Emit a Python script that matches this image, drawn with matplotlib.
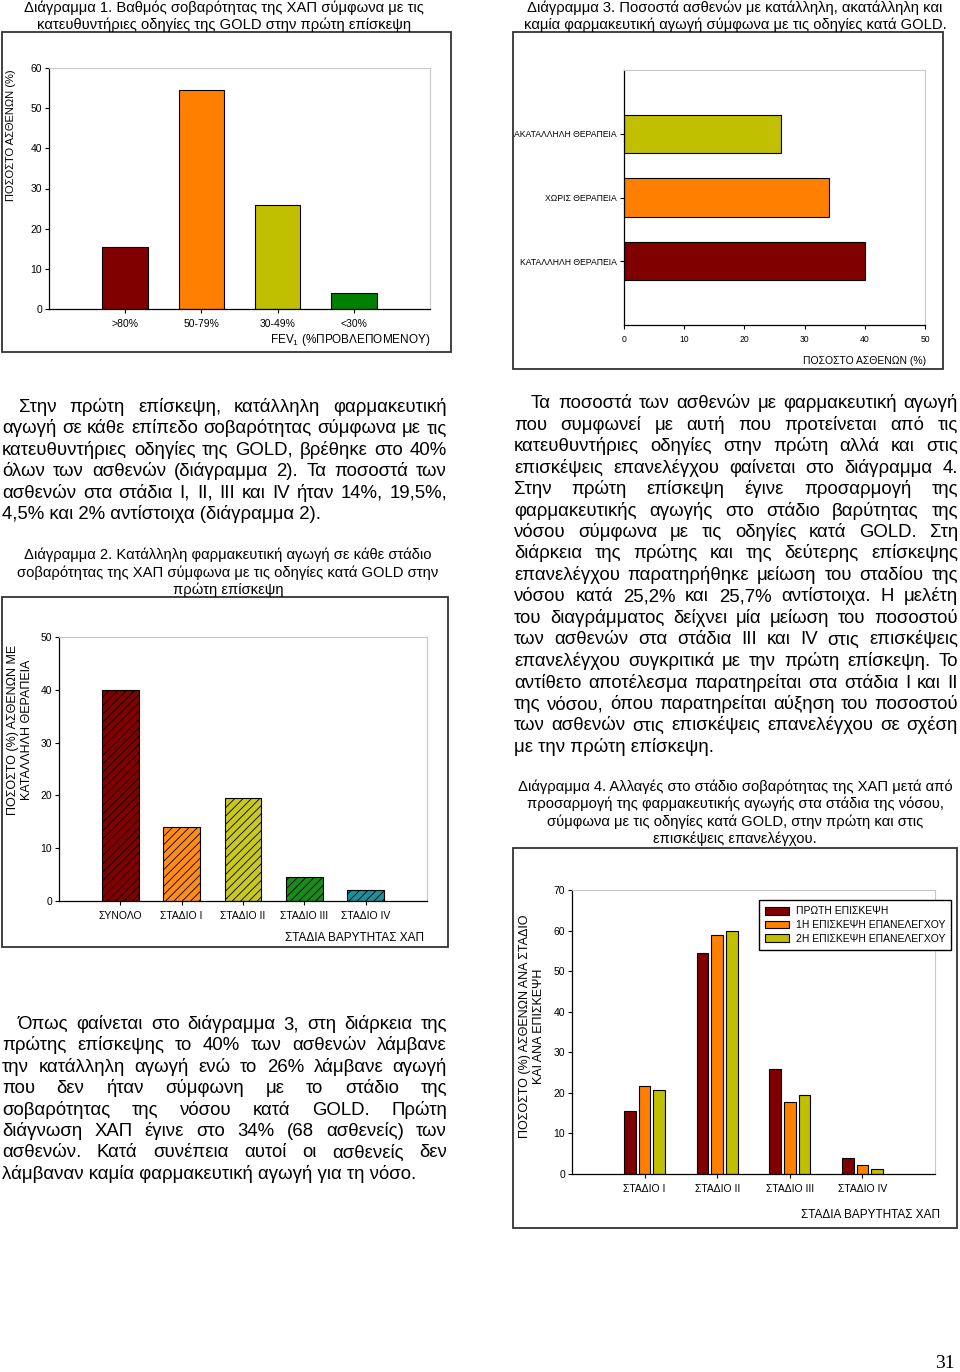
"""
plot.py
-------
Page with four GOLD / COPD charts and the text around them.
"""

import numpy as np
import matplotlib
matplotlib.use('Agg')
import matplotlib.pyplot as plt
from matplotlib.patches import Rectangle, Patch

plt.rcParams['font.family'] = ['Liberation Sans', 'DejaVu Sans']
plt.rcParams['mathtext.fontset'] = 'custom'
plt.rcParams['mathtext.rm'] = 'Liberation Sans'
plt.rcParams['hatch.linewidth'] = 0.6

W, H = 960, 1372

# ---- data -----------------------------------------------------------------
fev_cats = ['>80%', '50-79%', '30-49%', '<30%']
fev_vals = [15.5, 54.5, 26, 4]

treat_cats = ['ΚΑΤΑΛΛΗΛΗ ΘΕΡΑΠΕΙΑ', 'ΧΩΡΙΣ ΘΕΡΑΠΕΙΑ', 'ΑΚΑΤΑΛΛΗΛΗ ΘΕΡΑΠΕΙΑ']
treat_vals = [40, 34, 26]

stage_cats = ['ΣΥΝΟΛΟ', 'ΣΤΑΔΙΟ I', 'ΣΤΑΔΙΟ II', 'ΣΤΑΔΙΟ III', 'ΣΤΑΔΙΟ IV']
stage_vals = [40, 14, 19.5, 4.5, 2]

visit_cats = ['ΣΤΑΔΙΟ I', 'ΣΤΑΔΙΟ II', 'ΣΤΑΔΙΟ III', 'ΣΤΑΔΙΟ IV']
first_visit = [15.5, 54.5, 26, 4]
recheck_1 = [21.6, 58.8, 17.7, 2.2]
recheck_2 = [20.8, 59.8, 19.4, 1.3]
visit_names = ['ΠΡΩΤΗ ΕΠΙΣΚΕΨΗ', '1Η ΕΠΙΣΚΕΨΗ ΕΠΑΝΕΛΕΓΧΟΥ', '2Η ΕΠΙΣΚΕΨΗ ΕΠΑΝΕΛΕΓΧΟΥ']

par1 = [
    "Στην πρώτη επίσκεψη, κατάλληλη φαρμακευτική",
    "αγωγή σε κάθε επίπεδο σοβαρότητας σύμφωνα με τις",
    "κατευθυντήριες οδηγίες της GOLD, βρέθηκε στο 40%",
    "όλων των ασθενών (διάγραμμα 2). Τα ποσοστά των",
    "ασθενών στα στάδια Ι, ΙΙ, ΙΙΙ και ΙV ήταν 14%, 19,5%,",
    "4,5% και 2% αντίστοιχα (διάγραμμα 2).",
]
par2 = [
    "Τα ποσοστά των ασθενών με φαρμακευτική αγωγή",
    "που συμφωνεί με αυτή που προτείνεται από τις",
    "κατευθυντήριες οδηγίες στην πρώτη αλλά και στις",
    "επισκέψεις επανελέγχου φαίνεται στο διάγραμμα 4.",
    "Στην πρώτη επίσκεψη έγινε προσαρμογή της",
    "φαρμακευτικής αγωγής στο στάδιο βαρύτητας της",
    "νόσου σύμφωνα με τις οδηγίες κατά GOLD. Στη",
    "διάρκεια της πρώτης και της δεύτερης επίσκεψης",
    "επανελέγχου παρατηρήθηκε μείωση του σταδίου της",
    "νόσου κατά 25,2% και 25,7% αντίστοιχα. Η μελέτη",
    "του διαγράμματος δείχνει μία μείωση του ποσοστού",
    "των ασθενών στα στάδια ΙΙΙ και ΙV στις επισκέψεις",
    "επανελέγχου συγκριτικά με την πρώτη επίσκεψη. Το",
    "αντίθετο αποτέλεσμα παρατηρείται στα στάδια Ι και ΙΙ",
    "της νόσου, όπου παρατηρείται αύξηση του ποσοστού",
    "των ασθενών στις επισκέψεις επανελέγχου σε σχέση",
    "με την πρώτη επίσκεψη.",
]
par3 = [
    "Όπως φαίνεται στο διάγραμμα 3, στη διάρκεια της",
    "πρώτης επίσκεψης το 40% των ασθενών λάμβανε",
    "την κατάλληλη αγωγή ενώ το 26% λάμβανε αγωγή",
    "που δεν ήταν σύμφωνη με το στάδιο της",
    "σοβαρότητας της νόσου κατά GOLD. Πρώτη",
    "διάγνωση ΧΑΠ έγινε στο 34% (68 ασθενείς) των",
    "ασθενών. Κατά συνέπεια αυτοί οι ασθενείς δεν",
    "λάμβαναν καμία φαρμακευτική αγωγή για τη νόσο.",
]

title1 = ["Διάγραμμα 1. Βαθμός σοβαρότητας της ΧΑΠ σύμφωνα με τις",
          "κατευθυντήριες οδηγίες της GOLD στην πρώτη επίσκεψη"]
title3 = ["Διάγραμμα 3. Ποσοστά ασθενών με κατάλληλη, ακατάλληλη και",
          "καμία φαρμακευτική αγωγή σύμφωνα με τις οδηγίες κατά GOLD."]
title2 = ["Διάγραμμα 2. Κατάλληλη φαρμακευτική αγωγή σε κάθε στάδιο",
          "σοβαρότητας της ΧΑΠ σύμφωνα με τις οδηγίες κατά GOLD στην",
          "πρώτη επίσκεψη"]
title4 = ["Διάγραμμα 4. Αλλαγές στο στάδιο σοβαρότητας της ΧΑΠ μετά από",
          "προσαρμογή της φαρμακευτικής αγωγής στα στάδια της νόσου,",
          "σύμφωνα με τις οδηγίες κατά GOLD, στην πρώτη και στις",
          "επισκέψεις επανελέγχου."]

DARK_RED = '#800000'
ORANGE = '#ff8000'
OLIVE = '#c0c000'
GREEN = '#008000'

fig = plt.figure(figsize=(W / 100, H / 100), dpi=100)
renderer = fig.canvas.get_renderer()


def px_axes(l, t, r, b):
    return fig.add_axes([l / W, 1 - b / H, (r - l) / W, (b - t) / H])


def ptext(x, y, s, **kw):
    return fig.text(x / W, 1 - y / H, s, **kw)


def frame(l, t, r, b):
    fig.add_artist(Rectangle((l / W, 1 - b / H), (r - l) / W, (b - t) / H,
                             transform=fig.transFigure, fill=False,
                             lw=1.3, ec='#333333'))


def style(ax, labelsize=7.5):
    for s in ['top', 'right']:
        ax.spines[s].set_color('#c8c8c8')
    for s in ['left', 'bottom']:
        ax.spines[s].set_linewidth(0.9)
    ax.tick_params(direction='out', length=3, width=0.8,
                   labelsize=labelsize, pad=2)
    ax.tick_params(axis='x', pad=4)


def centered(lines, xc, y0, dy, size=10.6):
    for i, line in enumerate(lines):
        ptext(xc, y0 + i * dy, line, size=size, ha='center', va='baseline')


def paragraph(lines, x0, x1, y0, dy, indent, size=13.4):
    # justified text: spread words of every line but the last
    for i, line in enumerate(lines):
        y = y0 + i * dy
        start = x0 + (indent if i == 0 else 0)
        if i == len(lines) - 1:
            ptext(start, y, line, size=size, va='baseline')
            continue
        words = line.split()
        arts = [ptext(start, y, w, size=size, va='baseline') for w in words]
        widths = [a.get_window_extent(renderer).width for a in arts]
        gap = (x1 - start - sum(widths)) / (len(words) - 1)
        x = start
        for a, w in zip(arts, widths):
            a.set_x(x / W)
            x += w + gap


# ---- chart 1 ----------------------------------------------------------------
centered(title1, 224, 12, 16.5)
frame(2, 32, 451, 352)
ax1 = px_axes(49, 68, 430, 309)
x1 = np.arange(len(fev_cats))
ax1.bar(x1, fev_vals, width=0.6, color=[DARK_RED, ORANGE, OLIVE, GREEN],
        edgecolor='black', linewidth=0.8)
ax1.set_xlim(-1, 4)
ax1.set_ylim(0, 60)
ax1.set_yticks(range(0, 61, 10))
ax1.set_xticks(x1, fev_cats)
style(ax1)
ptext(11, 135, 'ΠΟΣΟΣΤΟ ΑΣΘΕΝΩΝ (%)', size=8, rotation=90,
      ha='center', va='center')
ptext(430, 340, 'FEV$_1$ (%ΠΡΟΒΛΕΠΟΜΕΝΟΥ)', size=8.5, ha='right', va='center')

# ---- chart 3 ----------------------------------------------------------------
centered(title3, 735, 12, 16.5)
frame(513, 32, 943, 369)
ax3 = px_axes(624, 70, 925, 325)
y3 = np.arange(len(treat_cats))
ax3.barh(y3, treat_vals, height=0.6, color=[DARK_RED, ORANGE, OLIVE],
         edgecolor='black', linewidth=0.8)
ax3.set_xlim(0, 50)
ax3.set_ylim(-1, 3)
ax3.set_xticks(range(0, 51, 10))
ax3.set_yticks(y3, treat_cats)
style(ax3, labelsize=6.2)
ptext(926, 361, 'ΠΟΣΟΣΤΟ ΑΣΘΕΝΩΝ (%)', size=7.5, ha='right', va='center')

# ---- text column left -------------------------------------------------------
paragraph(par1, 2, 447, 412, 21.4, 17)

# ---- chart 2 ----------------------------------------------------------------
centered(title2, 228, 559, 17.5)
frame(2, 597, 448, 947)
ax2 = px_axes(59, 637, 427, 901)
x2 = np.arange(len(stage_cats))
ax2.bar(x2, stage_vals, width=0.6,
        color=[DARK_RED, '#ff8c1a', '#c8c820', '#1a8a1a', '#1f8f9c'],
        edgecolor='black', linewidth=0.8, hatch='////')
ax2.set_xlim(-1, 5)
ax2.set_ylim(0, 50)
ax2.set_yticks(range(0, 51, 10))
ax2.set_xticks(x2, stage_cats)
style(ax2)
ptext(20, 730, 'ΠΟΣΟΣΤΟ (%) ΑΣΘΕΝΩΝ ΜΕ\nΚΑΤΑΛΛΗΛΗ ΘΕΡΑΠΕΙΑ', size=9,
      rotation=90, ha='center', va='center', multialignment='center',
      linespacing=1.15)
ptext(424, 938, 'ΣΤΑΔΙΑ ΒΑΡΥΤΗΤΑΣ ΧΑΠ', size=8.5, ha='right', va='center')

paragraph(par3, 2, 447, 1029, 21.4, 16)

# ---- text column right ------------------------------------------------------
paragraph(par2, 514, 958, 408, 21.5, 17)
centered(title4, 735, 791, 17.3)

# ---- chart 4 ----------------------------------------------------------------
frame(513, 848, 957, 1228)
ax4 = px_axes(572, 890, 935, 1174)
x4 = np.arange(len(visit_cats))
for off, vals, col in zip([-0.2, 0, 0.2], [first_visit, recheck_1, recheck_2],
                          [DARK_RED, ORANGE, OLIVE]):
    ax4.bar(x4 + off, vals, width=0.16, color=col, edgecolor='black',
            linewidth=0.8)
ax4.set_xlim(-1, 4)
ax4.set_ylim(0, 70)
ax4.set_yticks(range(0, 71, 10))
ax4.set_xticks(x4, visit_cats)
style(ax4)
handles = [Patch(facecolor=c, edgecolor='black', linewidth=0.8)
           for c in [DARK_RED, ORANGE, OLIVE]]
fig.legend(handles, visit_names, loc='upper left',
           bbox_to_anchor=(754 / W, 1 - 895 / H), fontsize=7.5,
           frameon=True, fancybox=False, edgecolor='black', framealpha=1,
           handlelength=2.3, handleheight=0.8, labelspacing=0.35,
           borderpad=0.6, handletextpad=0.6)
ptext(532, 1026, 'ΠΟΣΟΣΤΟ (%) ΑΣΘΕΝΩΝ ΑΝΑ ΣΤΑΔΙΟ\nΚΑΙ ΑΝΑ ΕΠΙΣΚΕΨΗ', size=9,
      rotation=90, ha='center', va='center', multialignment='center',
      linespacing=1.15)
ptext(940, 1215, 'ΣΤΑΔΙΑ ΒΑΡΥΤΗΤΑΣ ΧΑΠ', size=8.5, ha='right', va='center')

# page number
ptext(945, 1368, '31', size=14, family='Liberation Serif', ha='center',
      va='baseline')

plt.savefig('out.png', dpi=100)
